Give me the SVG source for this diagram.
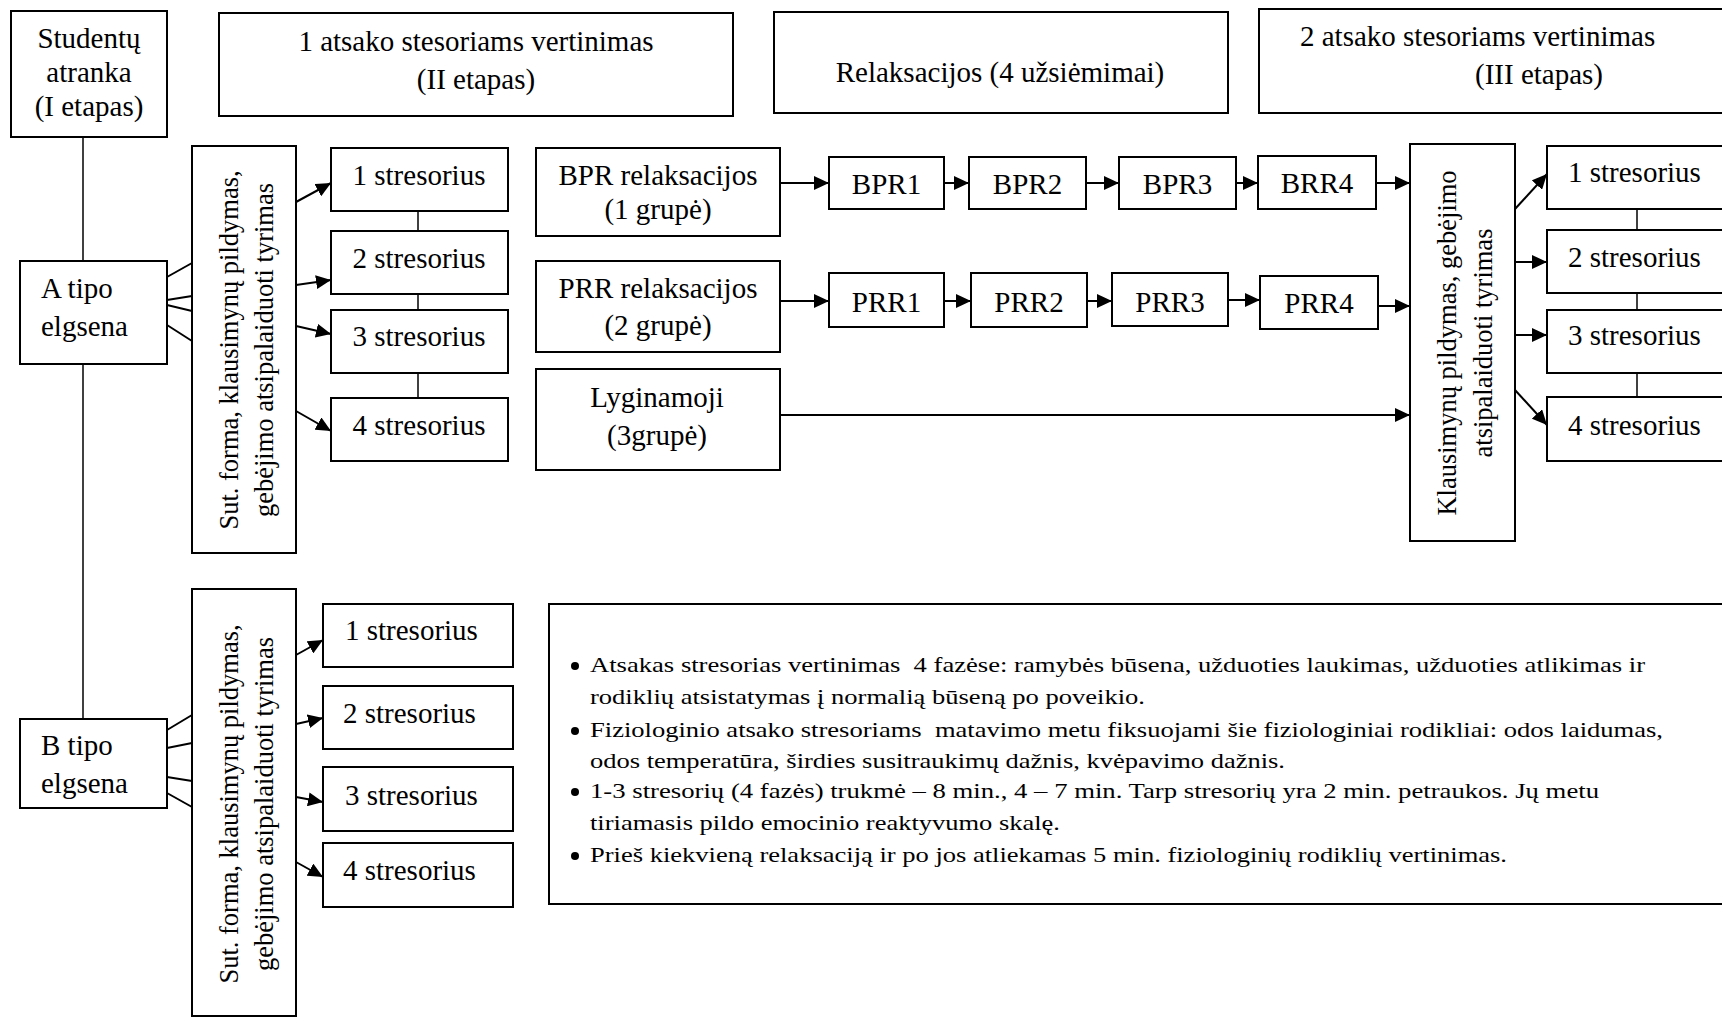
<svg xmlns="http://www.w3.org/2000/svg" width="1722" height="1018" viewBox="0 0 1722 1018">
<style>
.b{fill:#fff;stroke:#000;stroke-width:2}
.t{font-family:"Liberation Serif","Times New Roman",serif;font-size:29px;fill:#000}
.m{text-anchor:middle}
.r{font-family:"Liberation Serif","Times New Roman",serif;font-size:26.5px;fill:#000;text-anchor:middle}
.n{font-family:"Liberation Serif","Times New Roman",serif;font-size:21px;fill:#000;white-space:pre}
.c{stroke:#000;stroke-width:2;fill:none}
.ct{stroke:#000;stroke-width:1.5;fill:none}
.a{stroke:#000;stroke-width:2;fill:none;marker-end:url(#ah)}
</style>
<defs>
<marker id="ah" markerUnits="userSpaceOnUse" markerWidth="16" markerHeight="14" refX="15" refY="7" orient="auto">
<path d="M0,0 L15,7 L0,14 z" fill="#000"/>
</marker>
</defs>
<rect width="1722" height="1018" fill="#fff"/>

<g id="connectors">
<line class="ct" x1="83" y1="137" x2="83" y2="261"/>
<line class="ct" x1="83" y1="364" x2="83" y2="719"/>
<line class="c" x1="167" y1="277" x2="192" y2="263"/>
<line class="c" x1="167" y1="300" x2="192" y2="296"/>
<line class="c" x1="167" y1="305" x2="192" y2="311"/>
<line class="c" x1="167" y1="325" x2="192" y2="341"/>
<line class="c" x1="167" y1="730" x2="192" y2="715"/>
<line class="c" x1="167" y1="748" x2="192" y2="743"/>
<line class="c" x1="167" y1="777" x2="192" y2="781"/>
<line class="c" x1="167" y1="793" x2="192" y2="807"/>
<line class="a" x1="296" y1="202" x2="331" y2="183"/>
<line class="a" x1="296" y1="285" x2="331" y2="280"/>
<line class="a" x1="296" y1="326" x2="331" y2="334"/>
<line class="a" x1="296" y1="411" x2="331" y2="431"/>
<line class="a" x1="296" y1="655" x2="323" y2="640"/>
<line class="a" x1="296" y1="724" x2="323" y2="718"/>
<line class="a" x1="296" y1="797" x2="323" y2="802"/>
<line class="a" x1="296" y1="862" x2="323" y2="877"/>
<line class="ct" x1="418" y1="211" x2="418" y2="231"/>
<line class="ct" x1="418" y1="294" x2="418" y2="310"/>
<line class="ct" x1="418" y1="373" x2="418" y2="398"/>
<line class="a" x1="780" y1="183" x2="829" y2="183"/>
<line class="a" x1="944" y1="183" x2="969" y2="183"/>
<line class="a" x1="1086" y1="183" x2="1119" y2="183"/>
<line class="a" x1="1236" y1="183" x2="1258" y2="183"/>
<line class="a" x1="1377" y1="183" x2="1410" y2="183"/>
<line class="a" x1="780" y1="301" x2="829" y2="301"/>
<line class="a" x1="944" y1="301" x2="971" y2="301"/>
<line class="a" x1="1087" y1="301" x2="1112" y2="301"/>
<line class="a" x1="1228" y1="300" x2="1260" y2="300"/>
<line class="a" x1="1378" y1="306" x2="1410" y2="306"/>
<line class="a" x1="780" y1="415" x2="1410" y2="415"/>
<line class="a" x1="1515" y1="209" x2="1547" y2="174"/>
<line class="a" x1="1515" y1="262" x2="1547" y2="262"/>
<line class="a" x1="1515" y1="335" x2="1547" y2="335"/>
<line class="a" x1="1515" y1="390" x2="1547" y2="425"/>
<line class="ct" x1="1637" y1="209" x2="1637" y2="230"/>
<line class="ct" x1="1637" y1="293" x2="1637" y2="310"/>
<line class="ct" x1="1637" y1="373" x2="1637" y2="397"/>
</g>

<g id="studentu-atranka">
<rect class="b" x="11" y="11" width="156" height="126"/>
<text class="t m" x="89" y="48">Studentų</text>
<text class="t m" x="89" y="82">atranka</text>
<text class="t m" x="89" y="116">(I etapas)</text>
</g>
<g id="etapas-2">
<rect class="b" x="219" y="13" width="514" height="103"/>
<text class="t m" x="476" y="51">1 atsako stesoriams vertinimas</text>
<text class="t m" x="476" y="89">(II etapas)</text>
</g>
<g id="relaksacijos">
<rect class="b" x="774" y="12" width="454" height="101"/>
<text class="t m" x="1000" y="82">Relaksacijos (4 užsiėmimai)</text>
</g>
<g id="etapas-3">
<rect class="b" x="1259" y="9" width="480" height="104"/>
<text class="t" x="1300" y="46">2 atsako stesoriams vertinimas</text>
<text class="t" x="1475" y="84">(III etapas)</text>
</g>

<g id="a-tipo">
<rect class="b" x="20" y="261" width="147" height="103"/>
<text class="t" x="41" y="298">A tipo</text>
<text class="t" x="41" y="336">elgsena</text>
</g>
<g id="b-tipo">
<rect class="b" x="20" y="719" width="147" height="89"/>
<text class="t" x="41" y="755">B tipo</text>
<text class="t" x="41" y="793">elgsena</text>
</g>

<g id="sut-forma-a">
<rect class="b" x="192" y="146" width="104" height="407"/>
<text class="r" transform="translate(237.5,350) rotate(-90)" x="0" y="0">Sut. forma, klausimynų pildymas,</text>
<text class="r" transform="translate(272.5,350) rotate(-90)" x="0" y="0">gebėjimo atsipalaiduoti tyrimas</text>
</g>
<g id="sut-forma-b">
<rect class="b" x="192" y="589" width="104" height="427"/>
<text class="r" transform="translate(237.5,804) rotate(-90)" x="0" y="0">Sut. forma, klausimynų pildymas,</text>
<text class="r" transform="translate(272.5,804) rotate(-90)" x="0" y="0">gebėjimo atsipalaiduoti tyrimas</text>
</g>

<g id="a-stresorius-1"><rect class="b" x="331" y="148" width="177" height="63"/><text class="t m" x="419" y="185">1 stresorius</text></g>
<g id="a-stresorius-2"><rect class="b" x="331" y="231" width="177" height="63"/><text class="t m" x="419" y="268">2 stresorius</text></g>
<g id="a-stresorius-3"><rect class="b" x="331" y="310" width="177" height="63"/><text class="t m" x="419" y="346">3 stresorius</text></g>
<g id="a-stresorius-4"><rect class="b" x="331" y="398" width="177" height="63"/><text class="t m" x="419" y="435">4 stresorius</text></g>

<g id="b-stresorius-1"><rect class="b" x="323" y="604" width="190" height="63"/><text class="t" x="345" y="640">1 stresorius</text></g>
<g id="b-stresorius-2"><rect class="b" x="323" y="686" width="190" height="63"/><text class="t" x="343" y="723">2 stresorius</text></g>
<g id="b-stresorius-3"><rect class="b" x="323" y="767" width="190" height="64"/><text class="t" x="345" y="805">3 stresorius</text></g>
<g id="b-stresorius-4"><rect class="b" x="323" y="843" width="190" height="64"/><text class="t" x="343" y="880">4 stresorius</text></g>

<g id="bpr-relaksacijos">
<rect class="b" x="536" y="148" width="244" height="88"/>
<text class="t m" x="658" y="185">BPR relaksacijos</text>
<text class="t m" x="658" y="219">(1 grupė)</text>
</g>
<g id="prr-relaksacijos">
<rect class="b" x="536" y="261" width="244" height="91"/>
<text class="t m" x="658" y="298">PRR relaksacijos</text>
<text class="t m" x="658" y="335">(2 grupė)</text>
</g>
<g id="lyginamoji">
<rect class="b" x="536" y="369" width="244" height="101"/>
<text class="t m" x="657" y="407">Lyginamoji</text>
<text class="t m" x="657" y="445">(3grupė)</text>
</g>

<g id="bpr1"><rect class="b" x="829" y="157" width="115" height="52"/><text class="t m" x="886.5" y="194">BPR1</text></g>
<g id="bpr2"><rect class="b" x="969" y="157" width="117" height="52"/><text class="t m" x="1027.5" y="194">BPR2</text></g>
<g id="bpr3"><rect class="b" x="1119" y="157" width="117" height="52"/><text class="t m" x="1177.5" y="194">BPR3</text></g>
<g id="brr4"><rect class="b" x="1258" y="156" width="118" height="53"/><text class="t m" x="1317" y="193">BRR4</text></g>

<g id="prr1"><rect class="b" x="829" y="273" width="115" height="54"/><text class="t m" x="886.5" y="312">PRR1</text></g>
<g id="prr2"><rect class="b" x="971" y="273" width="116" height="54"/><text class="t m" x="1029" y="312">PRR2</text></g>
<g id="prr3"><rect class="b" x="1112" y="273" width="116" height="53"/><text class="t m" x="1170" y="312">PRR3</text></g>
<g id="prr4"><rect class="b" x="1260" y="276" width="118" height="53"/><text class="t m" x="1319" y="313">PRR4</text></g>

<g id="klausimynu-pildymas">
<rect class="b" x="1410" y="144" width="105" height="397"/>
<text class="r" transform="translate(1456,343) rotate(-90)" x="0" y="0">Klausimynų pildymas, gebėjimo</text>
<text class="r" transform="translate(1492,343) rotate(-90)" x="0" y="0">atsipalaiduoti tyrimas</text>
</g>

<g id="c-stresorius-1"><rect class="b" x="1547" y="146" width="200" height="63"/><text class="t" x="1568" y="182">1 stresorius</text></g>
<g id="c-stresorius-2"><rect class="b" x="1547" y="230" width="200" height="63"/><text class="t" x="1568" y="267">2 stresorius</text></g>
<g id="c-stresorius-3"><rect class="b" x="1547" y="310" width="200" height="63"/><text class="t" x="1568" y="345">3 stresorius</text></g>
<g id="c-stresorius-4"><rect class="b" x="1547" y="397" width="200" height="64"/><text class="t" x="1568" y="435">4 stresorius</text></g>

<g id="pastabos">
<rect class="b" x="549" y="604" width="1200" height="300"/>
<circle cx="575" cy="666" r="4"/>
<circle cx="575" cy="731" r="4"/>
<circle cx="575" cy="792" r="4"/>
<circle cx="575" cy="856" r="4"/>
<text class="n" x="590" y="672" textLength="1055" lengthAdjust="spacingAndGlyphs">Atsakas stresorias vertinimas  4 fazėse: ramybės būsena, užduoties laukimas, užduoties atlikimas ir</text>
<text class="n" x="590" y="704" textLength="555" lengthAdjust="spacingAndGlyphs">rodiklių atsistatymas į normalią būseną po poveikio.</text>
<text class="n" x="590" y="737" textLength="1073" lengthAdjust="spacingAndGlyphs">Fiziologinio atsako stresoriams  matavimo metu fiksuojami šie fiziologiniai rodikliai: odos laidumas,</text>
<text class="n" x="590" y="768" textLength="695" lengthAdjust="spacingAndGlyphs">odos temperatūra, širdies susitraukimų dažnis, kvėpavimo dažnis.</text>
<text class="n" x="590" y="798" textLength="1009" lengthAdjust="spacingAndGlyphs">1-3 stresorių (4 fazės) trukmė – 8 min., 4 – 7 min. Tarp stresorių yra 2 min. petraukos. Jų metu</text>
<text class="n" x="590" y="830" textLength="470" lengthAdjust="spacingAndGlyphs">tiriamasis pildo emocinio reaktyvumo skalę.</text>
<text class="n" x="590" y="862" textLength="917" lengthAdjust="spacingAndGlyphs">Prieš kiekvieną relaksaciją ir po jos atliekamas 5 min. fiziologinių rodiklių vertinimas.</text>
</g>
</svg>
